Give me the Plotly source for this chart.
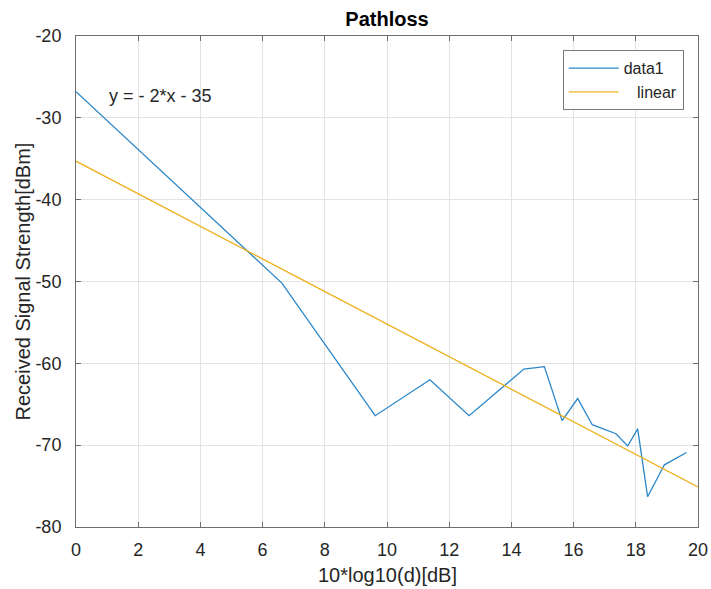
import plotly.graph_objects as go

# measured data (data1)
x_data = [0.0, 6.62, 9.62, 11.38, 12.64, 14.40, 15.06, 15.63, 16.13, 16.60,
          17.36, 17.74, 18.06, 18.38, 18.92, 19.63]
y_data = [-26.8, -50.2, -66.4, -62.0, -66.4, -60.7, -60.4, -67.0, -64.3, -67.5,
          -68.6, -70.1, -68.0, -76.3, -72.4, -70.9]

# linear fit line endpoints
x_lin = [0.0, 20.0]
y_lin = [-35.3, -75.1]

x_ticks = [0, 2, 4, 6, 8, 10, 12, 14, 16, 18, 20]
y_ticks = [-80, -70, -60, -50, -40, -30, -20]
y_ticktext = ["-80", "-70", "-60", "-50", "-40", "-30", "-20"]

FONT = "Liberation Sans, Arial, Helvetica, sans-serif"
AXC = "#6e6e6e"
GRID = "#e3e3e3"
TXT = "#262626"

fig = go.Figure()
fig.add_trace(go.Scatter(x=x_data, y=y_data, mode="lines", name="data1",
                         line=dict(color="#2a86c8", width=1.3)))
fig.add_trace(go.Scatter(x=x_lin, y=y_lin, mode="lines",
                         name="\u00a0\u00a0\u00a0linear",
                         line=dict(color="#EDB120", width=1.3)))

fig.add_annotation(x=1.0, y=-27.3, xref="x", yref="y", text="y = - 2*x - 35",
                   showarrow=False, xanchor="left", yanchor="middle",
                   font=dict(family=FONT, size=18, color=TXT))

# axis titles
fig.add_annotation(x=0.5, y=0, xref="paper", yref="paper",
                   text="10*log10(d)[dB]", showarrow=False,
                   xanchor="center", yanchor="middle", yshift=-48,
                   font=dict(family=FONT, size=20, color=TXT))
fig.add_annotation(x=0, y=0.5, xref="paper", yref="paper",
                   text="Received Signal Strength[dBm]", showarrow=False,
                   textangle=-90, xanchor="center", yanchor="middle", xshift=-54,
                   font=dict(family=FONT, size=20, color=TXT))

axis_common = dict(showline=True, linecolor=AXC, linewidth=1, mirror="ticks",
                   ticks="inside", ticklen=5, tickcolor=AXC, automargin=False,
                   showgrid=True, gridcolor=GRID, gridwidth=1, zeroline=False,
                   tickfont=dict(family=FONT, size=18, color=TXT))

fig.update_xaxes(range=[0, 20], tickvals=x_ticks, ticklabelstandoff=6,
                 **axis_common)
fig.update_yaxes(range=[-80, -20], tickvals=y_ticks, ticktext=y_ticktext,
                 ticklabelstandoff=10, **axis_common)

fig.update_layout(
    width=711, height=589,
    margin=dict(l=76, r=13, t=36, b=62),
    paper_bgcolor="white", plot_bgcolor="white",
    title=dict(text="<b>Pathloss</b>", x=0.5, xref="paper", xanchor="center",
               y=1 - 19 / 589, yref="container", yanchor="middle",
               font=dict(family=FONT, size=20, color="#000")),
    legend=dict(x=0.977, y=0.971, xanchor="right", yanchor="top",
                bgcolor="white", bordercolor="#7a7a7a", borderwidth=1,
                itemwidth=50, tracegroupgap=0,
                font=dict(family=FONT, size=16, color=TXT)),
    showlegend=True,
)

fig.write_html("out.html")
